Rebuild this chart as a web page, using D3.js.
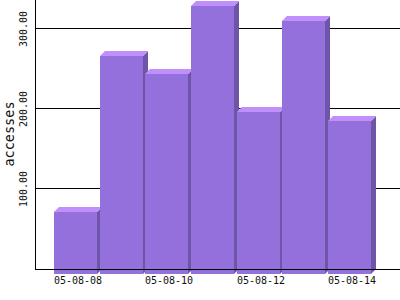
<!DOCTYPE html>
<html>
<head>
<meta charset="utf-8">
<script src="https://cdn.jsdelivr.net/npm/d3@7"></script>
<style>
  html, body { margin: 0; padding: 0; background: #fff; }
  svg { display: block; }
  text { font-family: "DejaVu Sans Mono", monospace; fill: #111; }
</style>
</head>
<body>
<svg id="chart" width="400" height="300"></svg>
<script>
// ---- data ----
const dates = ["05-08-08", "05-08-09", "05-08-10", "05-08-11", "05-08-12", "05-08-13", "05-08-14"];
const accesses = [77, 272, 249, 334, 202, 315, 191];
const yTicks = [100, 200, 300];
const xLabels = ["05-08-08", "05-08-10", "05-08-12", "05-08-14"];
const yTitle = "accesses";

// ---- layout ----
const W = 400, H = 300;
const axisX = 35.5;
const zeroY = 268.5;
const yMax = 335.6;
const depth = 5;
const frontW = 43;

const svg = d3.select("#chart");

const x = d3.scaleBand().domain(dates).range([54, 54 + 7 * 45.67]).padding(0);
const y = d3.scaleLinear().domain([0, yMax]).range([zeroY, 0]);

// gridlines
svg.append("g").selectAll("line").data(yTicks).join("line")
  .attr("x1", axisX).attr("x2", W)
  .attr("y1", d => Math.round(y(d)) + 0.5).attr("y2", d => Math.round(y(d)) + 0.5)
  .attr("stroke", "#000").attr("stroke-width", 1).attr("shape-rendering", "crispEdges");

// bars
const g = svg.append("g");
const bars = dates.map((d, i) => ({ d, v: accesses[i] }));
bars.forEach(b => {
  const L = Math.round(x(b.d));
  const top = Math.round(y(b.v));
  const bot = Math.round(y(0));
  // side
  g.append("polygon")
    .attr("points", [[L + frontW, top + depth], [L + frontW + depth, top], [L + frontW + depth, bot], [L + frontW, bot + depth]].join(" "))
    .attr("fill", "#6e55a8");
  // top
  g.append("polygon")
    .attr("points", [[L, top + depth], [L + depth, top], [L + frontW + depth, top], [L + frontW, top + depth]].join(" "))
    .attr("fill", "#c08ffc");
  // front
  g.append("rect")
    .attr("x", L).attr("y", top + depth)
    .attr("width", frontW).attr("height", bot - top)
    .attr("fill", "#9370db");
});

// axes lines
svg.append("line")
  .attr("x1", axisX).attr("x2", axisX).attr("y1", 0).attr("y2", zeroY + 1.5)
  .attr("stroke", "#000").attr("shape-rendering", "crispEdges");
svg.append("line")
  .attr("x1", axisX).attr("x2", W).attr("y1", zeroY + 1).attr("y2", zeroY + 1)
  .attr("stroke", "#000").attr("shape-rendering", "crispEdges");

// y tick labels
svg.append("g").selectAll("text").data(yTicks).join("text")
  .attr("transform", d => `translate(27,${y(d) + 0.5}) rotate(-90)`)
  .attr("text-anchor", "middle")
  .attr("font-size", "10px")
  .text(d => d3.format(".2f")(d));

// x tick labels
svg.append("g").selectAll("text").data(xLabels).join("text")
  .attr("x", d => Math.round(x(d)) + (frontW + depth) / 2)
  .attr("y", 284)
  .attr("text-anchor", "middle")
  .attr("font-size", "10px")
  .text(d => d);

// y title
svg.append("text")
  .attr("transform", `translate(13.5,${134}) rotate(-90)`)
  .attr("text-anchor", "middle")
  .attr("font-size", "13.5px")
  .text(yTitle);
</script>
</body>
</html>
